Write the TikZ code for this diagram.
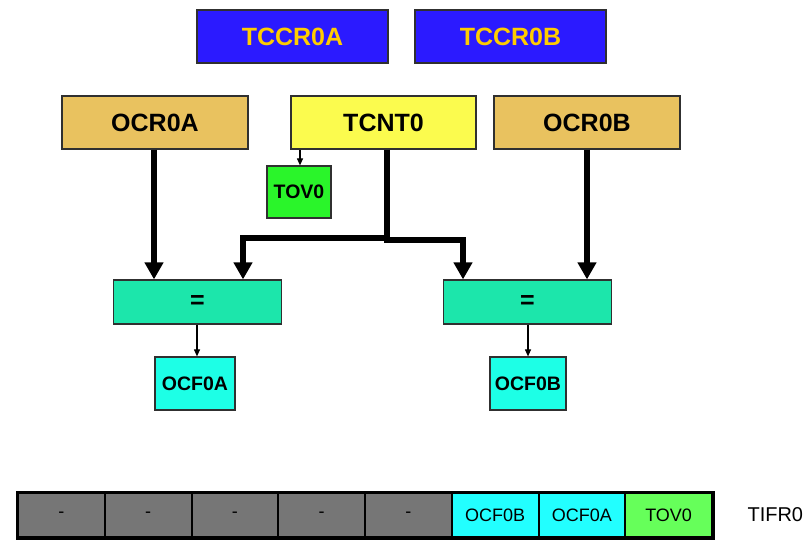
\documentclass[tikz,border=0pt]{standalone}
\usepackage{fontspec}
\setmainfont{Liberation Sans}
\usetikzlibrary{arrows.meta}
\definecolor{cblue}{HTML}{2B1AFF}
\definecolor{cgold}{HTML}{FFCC00}
\definecolor{ctan}{HTML}{E9C25F}
\definecolor{cyel}{HTML}{FBFB4E}
\definecolor{cgrn}{HTML}{2AF52A}
\definecolor{cmint}{HTML}{1CE6AB}
\definecolor{ccyan}{HTML}{1DFFE6}
\definecolor{rgray}{HTML}{767676}
\definecolor{rcyan}{HTML}{22FFFF}
\definecolor{rgrn}{HTML}{66FF5A}
\definecolor{edge}{HTML}{303030}
\tikzset{
  box/.style={draw=edge, line width=1.2pt, rectangle, inner sep=0pt, anchor=center},
  bigtxt/.style={font=\fontsize{25}{30}\selectfont\bfseries},
  midtxt/.style={font=\fontsize{19.5}{23}\selectfont\bfseries},
  regtxt/.style={font=\fontsize{18}{21}\selectfont},
  thick arrow/.style={line width=6.7pt, -{Triangle[width=18pt,length=17pt]}},
  thin arrow/.style={line width=1.1pt, draw=black, -{Triangle[width=6pt,length=7pt]}},
  cell/.style={draw=black, line width=2pt, rectangle, minimum width=86.75pt, minimum height=44pt, inner sep=0pt, anchor=center, regtxt}
}
\begin{document}
\begin{tikzpicture}[x=1pt,y=-1pt]
\useasboundingbox (0,0) rectangle (806,546);
% top control registers
\node[box, fill=cblue, text=cgold, bigtxt, minimum width=191pt, minimum height=53pt] (tccra) at (292.5,36.5) {TCCR0A};
\node[box, fill=cblue, text=cgold, bigtxt, minimum width=191pt, minimum height=53pt] (tccrb) at (510.5,36.5) {TCCR0B};
% second row
\node[box, fill=ctan, bigtxt, minimum width=186pt, minimum height=53pt] (ocra) at (155,122.5) {OCR0A};
\node[box, fill=cyel, bigtxt, minimum width=185pt, minimum height=53pt] (tcnt) at (383.5,122.5) {TCNT0};
\node[box, fill=ctan, bigtxt, minimum width=186pt, minimum height=53pt] (ocrb) at (587,122.5) {OCR0B};
\node[box, fill=cgrn, midtxt, minimum width=64pt, minimum height=52pt] (tov) at (299,192) {TOV0};
% comparators
\node[box, fill=cmint, bigtxt, minimum width=168pt, minimum height=44pt] (eqa) at (197.5,302) {=};
\node[box, fill=cmint, bigtxt, minimum width=168pt, minimum height=44pt] (eqb) at (527.5,302) {=};
% flags
\node[box, fill=ccyan, midtxt, minimum width=80pt, minimum height=53pt] (ocfa) at (195,383.5) {OCF0A};
\node[box, fill=ccyan, midtxt, minimum width=76pt, minimum height=53pt] (ocfb) at (528,383.5) {OCF0B};
% connectors
\draw[thick arrow] (ocra.south -| 154,0) -- (eqa.north -| 154,0);
\draw[thick arrow] (ocrb.south -| 587,0) -- (eqb.north -| 587,0);
\draw[line width=6.7pt] (tcnt.south -| 387,0) -- (387,238);
\draw[thick arrow] (390.35,238) -- (243,238) -- (eqa.north -| 243,0);
\draw[thick arrow] (383.65,240) -- (463,240) -- (eqb.north -| 463,0);
\draw[thin arrow] (tcnt.south -| 300,0) -- (tov.north -| 300,0);
\draw[thin arrow] (eqa.south -| 197,0) -- (ocfa.north -| 197,0);
\draw[thin arrow] (eqb.south -| 528,0) -- (ocfb.north -| 528,0);
% TIFR0 register
\foreach \i/\t/\c in {0/-/rgray,1/-/rgray,2/-/rgray,3/-/rgray,4/-/rgray,5/OCF0B/rcyan,6/OCF0A/rcyan,7/TOV0/rgrn}{
  \node[cell, fill=\c] (r\i) at ({18+86.75*(\i+0.5)},515) {\t};
}
\draw[line width=3pt] (r0.north west) rectangle (r7.south east);
\node[font=\fontsize{20}{24}\selectfont, anchor=west] (tifr) at (744,515) {TIFR0};
\end{tikzpicture}
\end{document}
